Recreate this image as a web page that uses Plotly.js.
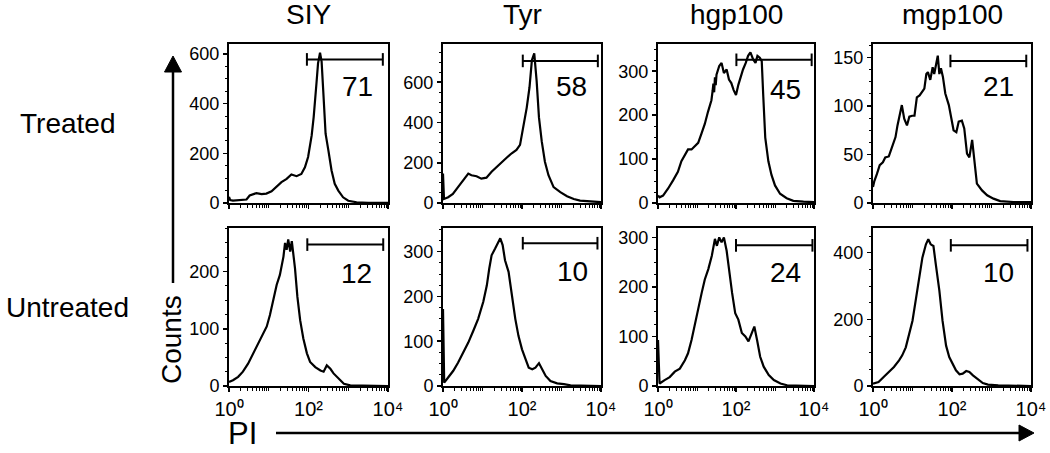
<!DOCTYPE html>
<html>
<head>
<meta charset="utf-8">
<script src="https://cdn.plot.ly/plotly-3.0.1.min.js"></script>
<style>
  html, body { margin: 0; padding: 0; background: #ffffff; }
  #chart { width: 1050px; height: 453px; }
</style>
</head>
<body>
<div id="chart"></div>
<script>
// ---------- DATA (x = log10 of PI intensity, y = counts) ----------
const columnTitles = ['SIY', 'Tyr', 'hgp100', 'mgp100'];
const rowTitles = ['Treated', 'Untreated'];
const xTickValues = [1, 100, 10000];
const xTickLabels = ['10⁰', '10²', '10⁴'];

const siyTreatedLogPI = [0,0.03,0.10,0.25,0.44,0.52,0.69,0.82,0.94,1.07,1.19,1.32,1.45,1.57,1.70,1.82,1.91,1.99,2.08,2.13,2.20,2.24,2.29,2.33,2.37,2.43,2.50,2.58,2.66,2.75,2.87,3.0,3.21,3.5,4];
const siyTreatedCounts = [25,12,10,12,14,30,40,36,38,47,66,84,97,115,108,117,144,185,272,346,481,562,605,569,454,279,212,131,77,50,23,9,3,1,1];

const tyrTreatedLogPI = [0,0.025,0.13,0.25,0.38,0.51,0.64,0.72,0.85,0.97,1.10,1.23,1.36,1.48,1.61,1.74,1.86,1.95,2.03,2.12,2.19,2.25,2.31,2.37,2.43,2.50,2.58,2.67,2.80,2.97,3.14,3.31,3.47,3.73,4];
const tyrTreatedCounts = [146,20,29,45,79,113,146,138,133,121,126,155,180,202,225,247,264,289,373,474,575,709,743,608,424,306,205,138,79,54,34,20,12,7,4];

const hgpTreatedLogPI = [0,0.04,0.13,0.26,0.39,0.51,0.60,0.69,0.77,0.86,0.94,1.03,1.11,1.20,1.28,1.37,1.40,1.42,1.44,1.46,1.48,1.50,1.57,1.63,1.69,1.76,1.82,1.88,1.94,2.00,2.06,2.12,2.18,2.25,2.31,2.37,2.44,2.50,2.55,2.61,2.66,2.70,2.75,2.83,2.91,3.00,3.13,3.30,3.47,3.73,4];
const hgpTreatedCounts = [17,13,17,33,52,71,95,110,122,122,129,137,157,180,207,234,255,272,252,286,268,292,312,319,296,304,281,273,257,246,269,288,304,319,335,343,327,319,335,331,323,242,149,95,64,40,21,11,5,3,2];

const mgpTreatedLogPI = [0,0.03,0.10,0.17,0.25,0.31,0.40,0.48,0.57,0.62,0.69,0.73,0.79,0.86,0.92,0.99,1.05,1.11,1.18,1.24,1.30,1.35,1.39,1.45,1.51,1.55,1.60,1.64,1.68,1.72,1.77,1.83,1.92,1.98,2.04,2.11,2.17,2.25,2.31,2.38,2.44,2.51,2.57,2.63,2.76,2.89,3.05,3.22,3.56,4];
const mgpTreatedCounts = [16.5,22,30,39,42,47,48,58,68,80,96,101,87,80,89,90,90,109,111,115,118,133,135,127,140,133,144,152,133,139,130,113,101,89,75,73,84,85,77,51,47,65,44,20,13,8,4.5,2,1,1];

const siyUntreatedLogPI = [0,0.10,0.23,0.35,0.48,0.61,0.73,0.86,0.95,1.03,1.11,1.20,1.28,1.37,1.41,1.45,1.49,1.54,1.58,1.62,1.66,1.72,1.79,1.87,1.96,2.04,2.17,2.30,2.38,2.46,2.55,2.63,2.76,2.89,3.05,4];
const siyUntreatedCounts = [7,10,16,25,39,57,71,89,104,124,150,177,194,226,250,238,256,235,253,232,206,156,115,83,57,42,33,27,25,36,30,22,13,4,1,0];

const tyrUntreatedLogPI = [0,0.03,0.13,0.26,0.38,0.51,0.64,0.77,0.89,1.02,1.11,1.17,1.23,1.32,1.39,1.45,1.51,1.57,1.66,1.74,1.83,1.91,2.00,2.09,2.17,2.26,2.34,2.43,2.51,2.60,2.72,2.89,3.06,3.23,4];
const tyrUntreatedCounts = [172,7.5,19,34,52,75,97,124,150,188,225,262,292,307,319,330,315,281,255,202,150,112,82,60,41,37.5,41,51,37.5,22.5,11,6,4,1.5,0];

const hgpUntreatedLogPI = [0,0.04,0.17,0.30,0.43,0.56,0.69,0.77,0.86,0.95,1.03,1.12,1.20,1.29,1.38,1.46,1.51,1.57,1.63,1.69,1.76,1.83,1.90,1.98,2.06,2.15,2.24,2.32,2.41,2.47,2.54,2.62,2.71,2.84,2.97,3.14,3.31,4];
const hgpUntreatedCounts = [93,5,12,18,29,35,52,66,93,127,161,188,215,236,263,297,283,300,290,300,273,229,188,147,134,107,100,90,107,120,93,59,39,22,12,5,1.5,0];

const mgpUntreatedLogPI = [0,0.14,0.27,0.40,0.53,0.66,0.74,0.83,0.91,1.00,1.08,1.17,1.25,1.34,1.40,1.46,1.53,1.59,1.68,1.76,1.85,1.93,2.02,2.10,2.19,2.27,2.36,2.44,2.53,2.66,2.78,2.91,3.17,4];
const mgpUntreatedCounts = [7,12,27,42,57,77,92,116,151,196,256,320,385,425,440,425,420,365,286,196,121,87,67,47,35,37,45,42,32,19,9,4,2,0];

// gates (percentage of cells in the PI-high gate)
const gatePercent = [71, 58, 45, 21, 12, 10, 24, 10];
const gateLowLog  = [1.96, 2.02, 2.01, 1.96, 1.97, 2.02, 2.00, 1.97];
const gateHighLog = [3.87, 3.92, 3.94, 3.88, 3.88, 3.91, 3.96, 3.91];
const gateLevel   = [578, 706, 326, 146.5, 247, 319, 284, 422];

// y-axis scale per panel
const yMax   = [640, 790, 362, 164, 276, 353, 319, 474];
const yDtick = [200, 200, 100, 50, 100, 100, 100, 200];

// ---------- BUILD ----------
const panelX = [siyTreatedLogPI, tyrTreatedLogPI, hgpTreatedLogPI, mgpTreatedLogPI,
                siyUntreatedLogPI, tyrUntreatedLogPI, hgpUntreatedLogPI, mgpUntreatedLogPI];
const panelY = [siyTreatedCounts, tyrTreatedCounts, hgpTreatedCounts, mgpTreatedCounts,
                siyUntreatedCounts, tyrUntreatedCounts, hgpUntreatedCounts, mgpUntreatedCounts];

const W = 1050, H = 453;
const px = v => v / W;
const py = v => 1 - v / H;

// panel boxes in pixels
const colBox = [[229, 388], [443, 601], [658, 814], [873, 1031]];
const rowBox = [[44, 203], [228, 386]];
const labelPos = [[357, 87], [571, 87], [785, 89], [998, 87], [356, 273], [572, 271], [785, 272], [998, 272]];

const FONT = 'Liberation Sans, Arial, Helvetica, sans-serif';
const traces = [];
const layout = {
  width: W, height: H,
  margin: {l: 0, r: 0, t: 0, b: 0},
  paper_bgcolor: '#ffffff', plot_bgcolor: '#ffffff',
  showlegend: false,
  font: {family: FONT, color: '#000'},
  annotations: [], shapes: []
};

// minor log ticks (2..9 per decade plus the unlabelled decades)
const minorX = [];
for (let k = 0; k < 4; k++) for (let m = 2; m <= 10; m++) {
  const v = m * Math.pow(10, k);
  if (xTickValues.indexOf(v) < 0) minorX.push(v);
}

for (let i = 0; i < 8; i++) {
  const r = Math.floor(i / 4), c = i % 4;
  const n = i + 1;
  const xa = 'x' + (n === 1 ? '' : n), ya = 'y' + (n === 1 ? '' : n);
  traces.push({
    type: 'scatter', mode: 'lines',
    x: panelX[i].map(v => Math.pow(10, v)), y: panelY[i],
    xaxis: xa, yaxis: ya,
    line: {color: '#000', width: 2.2}, hoverinfo: 'skip'
  });
  traces.push({
    type: 'scatter', mode: 'lines+markers',
    x: [Math.pow(10, gateLowLog[i]), Math.pow(10, gateHighLog[i])],
    y: [gateLevel[i], gateLevel[i]],
    xaxis: xa, yaxis: ya,
    line: {color: '#000', width: 2},
    marker: {symbol: 'line-ns', size: 9, line: {color: '#000', width: 2}},
    cliponaxis: false, hoverinfo: 'skip'
  });
  const xName = 'xaxis' + (n === 1 ? '' : n), yName = 'yaxis' + (n === 1 ? '' : n);
  const xAxis = {
    type: 'log', range: [0, 4],
    domain: [px(colBox[c][0]), px(colBox[c][1])],
    anchor: ya,
    ticks: 'outside', ticklen: 4, tickwidth: 1.5, tickcolor: '#000',
    minor: {ticks: 'outside', ticklen: 3, tickwidth: 1, tickcolor: '#000', tickvals: minorX, showgrid: false},
    showline: true, linecolor: '#000', linewidth: 2, mirror: true,
    showgrid: false, zeroline: false, fixedrange: true
  };
  if (r === 1) {
    xAxis.tickmode = 'array';
    xAxis.tickvals = xTickValues;
    xAxis.ticktext = xTickLabels;
    xAxis.showticklabels = true;
    xAxis.tickfont = {size: 20, family: FONT, color: '#000'};
  } else {
    xAxis.tickmode = 'array';
    xAxis.tickvals = xTickValues;
    xAxis.showticklabels = false;
  }
  layout[xName] = xAxis;
  layout[yName] = {
    range: [0, yMax[i]],
    domain: [py(rowBox[r][1]), py(rowBox[r][0])],
    anchor: xa,
    tickmode: 'linear', tick0: 0, dtick: yDtick[i],
    ticks: 'outside', ticklen: 4, tickwidth: 1.5, tickcolor: '#000',
    minor: {ticks: 'outside', ticklen: 2.5, tickwidth: 1, tickcolor: '#000', dtick: yDtick[i] / 4, showgrid: false},
    tickfont: {size: 18, family: FONT, color: '#000'},
    showline: true, linecolor: '#000', linewidth: 2, mirror: true,
    showgrid: false, zeroline: false, fixedrange: true
  };
  layout.annotations.push({
    xref: 'paper', yref: 'paper', x: px(labelPos[i][0]), y: py(labelPos[i][1]),
    xanchor: 'center', yanchor: 'middle', showarrow: false,
    text: String(gatePercent[i]), font: {size: 28, family: FONT, color: '#000'}
  });
}

// column and row titles
columnTitles.forEach((t, c) => {
  layout.annotations.push({
    xref: 'paper', yref: 'paper', x: px((colBox[c][0] + colBox[c][1]) / 2), y: py(14),
    xanchor: 'center', yanchor: 'middle', showarrow: false,
    text: t, font: {size: 28, family: FONT, color: '#000'}
  });
});
rowTitles.forEach((t, r) => {
  layout.annotations.push({
    xref: 'paper', yref: 'paper', x: px(67), y: py((rowBox[r][0] + rowBox[r][1]) / 2),
    xanchor: 'center', yanchor: 'middle', showarrow: false,
    text: t, font: {size: 28, family: FONT, color: '#000'}
  });
});
layout.annotations.push({
  xref: 'paper', yref: 'paper', x: px(171), y: py(340),
  xanchor: 'center', yanchor: 'middle', showarrow: false, textangle: -90,
  text: 'Counts', font: {size: 28, family: FONT, color: '#000'}
});
layout.annotations.push({
  xref: 'paper', yref: 'paper', x: px(242), y: py(433),
  xanchor: 'center', yanchor: 'middle', showarrow: false,
  text: 'PI', font: {size: 31, family: FONT, color: '#000'}
});

// arrows
layout.shapes.push({type: 'line', xref: 'paper', yref: 'paper',
  x0: px(173), x1: px(173), y0: py(283), y1: py(70), line: {color: '#000', width: 2.5}});
layout.shapes.push({type: 'path', xref: 'paper', yref: 'paper',
  path: `M ${px(173)},${py(56)} L ${px(164.5)},${py(72)} L ${px(181.5)},${py(72)} Z`,
  fillcolor: '#000', line: {color: '#000', width: 1}});
layout.shapes.push({type: 'line', xref: 'paper', yref: 'paper',
  x0: px(276), x1: px(1022), y0: py(433), y1: py(433), line: {color: '#000', width: 2.5}});
layout.shapes.push({type: 'path', xref: 'paper', yref: 'paper',
  path: `M ${px(1034)},${py(433)} L ${px(1019)},${py(425)} L ${px(1019)},${py(441)} Z`,
  fillcolor: '#000', line: {color: '#000', width: 1}});

Plotly.newPlot('chart', traces, layout, {staticPlot: true, displayModeBar: false});
</script>
</body>
</html>
